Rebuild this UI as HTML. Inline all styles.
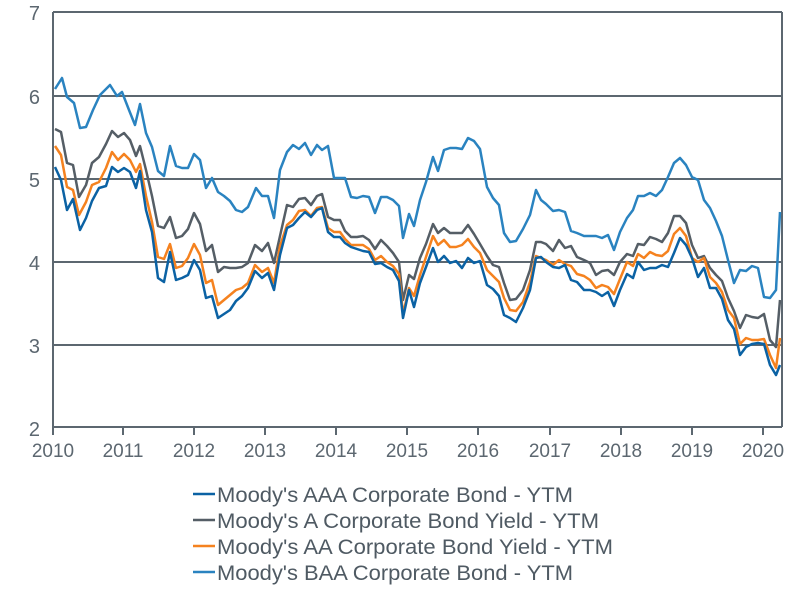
<!DOCTYPE html>
<html><head><meta charset="utf-8"><style>
html,body{margin:0;padding:0;background:#fff;}
svg{display:block;font-family:"Liberation Sans",sans-serif;}
</style></head><body>
<svg width="800" height="607" viewBox="0 0 800 607">
<g stroke="#5c6770" stroke-width="2" fill="none">
<line x1="53" y1="12" x2="782" y2="12"/>
<line x1="53" y1="96" x2="782" y2="96"/>
<line x1="53" y1="179" x2="782" y2="179"/>
<line x1="53" y1="262" x2="782" y2="262"/>
<line x1="53" y1="345" x2="782" y2="345"/>
<line x1="53" y1="427" x2="782" y2="427"/>
<line x1="53" y1="12" x2="53" y2="427"/>
<line x1="782" y1="12" x2="782" y2="427"/>
<path d="M53 427v8M123 427v8M194 427v8M265 427v8M336 427v8M407 427v8M478 427v8M550 427v8M621 427v8M692 427v8M763 427v8"/>
</g>
<g fill="#5c6770" font-size="20" text-anchor="end">
<text x="40" y="20">7</text><text x="40" y="104">6</text><text x="40" y="187">5</text><text x="40" y="270">4</text><text x="40" y="353">3</text><text x="40" y="436">2</text>
</g>
<g fill="#5c6770" font-size="19" text-anchor="middle">
<text x="53" y="457">2010</text><text x="123" y="457">2011</text><text x="194" y="457">2012</text><text x="265" y="457">2013</text><text x="336" y="457">2014</text><text x="407" y="457">2015</text><text x="478" y="457">2016</text><text x="550" y="457">2017</text><text x="621" y="457">2018</text><text x="692" y="457">2019</text><text x="763" y="457">2020</text>
</g>
<g fill="none" stroke-width="2.5" stroke-linejoin="round">
<polyline stroke="#2a83c0" points="55,89 62,78 67,97 74,103 80,128 86,127 93,110 100,95 110,85 117,96 122,92 129,110 135,125 140,104 146,133 152,147 158,171 164,176 170,146 176,166 182,168 188,168 194,154 200,160 206,188 212,178 218,192 224,196 230,201 236,210 242,212 248,207 256,188 262,196 268,196 274,218 280,170 287,152 293,145 299,149 305,143 311,155 317,145 322,150 328,146 334,178 340,178 345,178 351,197 357,198 363,196 369,197 375,213 381,197 387,197 393,200 399,206 403,238 409,214 414,226 420,200 426,182 433,157 438,171 444,150 450,148 456,148 462,149 468,138 474,141 480,149 487,187 493,198 499,205 504,233 510,242 516,241 523,229 530,215 536,190 541,200 546,204 553,211 559,210 565,212 571,231 577,233 584,236 590,236 596,236 602,238 608,235 614,250 620,232 627,218 633,210 638,196 644,196 650,193 656,196 662,190 668,177 674,163 680,158 686,165 692,177 698,180 704,200 710,208 716,221 722,236 728,260 734,283 740,270 746,271 752,266 758,268 764,297 770,298 776,290 780,212"/>
<polyline stroke="#555e66" points="55,129 61,132 67,163 73,165 79,197 86,185 92,163 99,157 106,144 112,131 118,137 124,133 130,140 136,156 140,146 146,170 152,196 158,226 164,228 170,217 176,238 182,236 188,229 194,213 200,224 206,251 212,245 218,272 224,267 230,268 236,268 242,267 248,263 255,245 262,251 268,243 274,263 280,236 287,205 293,207 299,199 305,198 311,205 317,196 322,194 328,217 334,220 340,220 345,231 351,237 357,237 363,236 369,240 375,249 381,240 387,246 393,253 399,262 403,300 409,275 414,279 420,258 426,244 433,224 438,233 444,228 450,233 456,233 462,233 468,225 474,234 480,244 487,256 493,265 499,267 504,283 510,300 516,299 523,290 530,270 536,242 541,242 546,244 553,251 559,240 565,248 571,246 577,257 584,260 590,263 596,275 602,271 608,270 614,275 620,262 627,254 633,256 638,244 644,245 650,237 656,239 662,242 668,233 674,216 680,216 686,223 692,245 698,258 704,256 710,268 716,275 722,281 728,298 734,311 740,328 746,315 752,317 758,318 764,314 770,340 776,347 780,300"/>
<polyline stroke="#f5821f" points="55,146 61,155 67,187 73,190 79,215 86,202 92,185 99,182 106,168 112,152 118,160 124,154 130,160 136,172 140,164 146,196 152,222 158,257 164,259 170,244 176,268 182,266 188,258 194,244 200,255 206,283 212,280 218,305 224,300 230,295 236,290 242,288 248,283 255,265 262,272 268,268 274,283 280,246 287,225 293,220 299,211 305,210 311,216 317,208 322,207 328,228 334,232 340,232 345,239 351,245 357,245 363,245 369,249 375,260 381,256 387,262 393,266 399,274 403,314 409,288 414,296 420,275 426,257 433,236 438,245 444,240 450,247 456,247 462,245 468,239 474,247 480,253 487,270 493,276 499,282 504,298 510,310 516,311 523,302 530,282 536,256 541,258 546,260 553,265 559,260 565,264 571,266 577,274 584,276 590,280 596,288 602,285 608,287 614,294 620,279 627,262 633,266 638,254 644,258 650,252 656,255 662,256 668,251 674,234 680,228 686,236 692,258 698,262 704,258 710,277 716,283 722,292 728,310 734,318 740,344 746,338 752,340 758,340 764,339 770,355 776,368 780,338"/>
<polyline stroke="#0b62a4" points="55,167 61,180 67,210 73,199 80,230 86,218 92,201 99,188 106,186 112,167 118,172 124,168 130,172 136,188 140,171 146,210 152,232 158,278 164,282 170,252 176,280 182,278 188,275 194,260 200,270 206,298 212,296 218,318 224,314 230,310 236,301 242,296 248,288 255,271 262,278 268,273 274,290 280,255 287,228 293,225 299,218 305,212 311,217 317,210 322,208 328,232 334,237 340,237 345,243 351,247 357,249 363,251 369,252 375,264 381,263 387,267 393,270 399,281 403,318 409,290 414,307 420,283 426,267 433,248 438,262 444,256 450,263 456,261 462,268 468,258 474,263 480,261 487,285 493,289 499,296 504,315 510,318 516,322 523,308 530,290 536,258 541,257 546,262 553,267 559,268 565,265 571,280 577,282 584,290 590,290 596,292 602,296 608,292 614,306 620,290 627,274 633,278 638,262 644,270 650,268 656,268 662,265 668,267 674,253 680,238 686,245 692,258 698,277 704,268 710,288 716,288 722,299 728,320 734,329 740,355 746,347 752,344 758,343 764,344 770,365 776,375 780,365"/>
</g>
<g stroke-width="2.5">
<line x1="193" y1="494" x2="215" y2="494" stroke="#0b62a4"/>
<line x1="193" y1="520" x2="215" y2="520" stroke="#555e66"/>
<line x1="193" y1="546" x2="215" y2="546" stroke="#f5821f"/>
<line x1="193" y1="572" x2="215" y2="572" stroke="#2a83c0"/>
</g>
<g fill="#4f5a63" font-size="21">
<text x="217" y="502" textLength="356" lengthAdjust="spacingAndGlyphs">Moody's AAA Corporate Bond - YTM</text>
<text x="217" y="528" textLength="382" lengthAdjust="spacingAndGlyphs">Moody's A Corporate Bond Yield - YTM</text>
<text x="217" y="554" textLength="396" lengthAdjust="spacingAndGlyphs">Moody's AA Corporate Bond Yield - YTM</text>
<text x="217" y="580" textLength="356" lengthAdjust="spacingAndGlyphs">Moody's BAA Corporate Bond - YTM</text>
</g>
</svg>
</body></html>
